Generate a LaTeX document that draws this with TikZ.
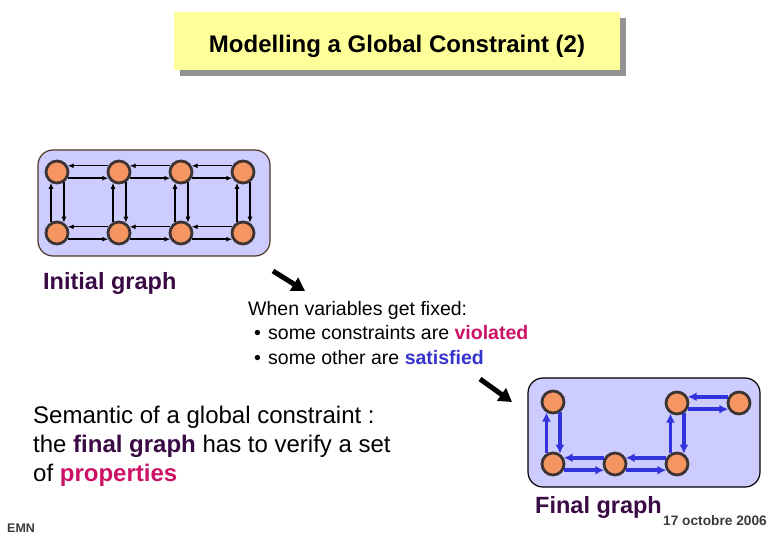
\documentclass[tikz,border=0pt]{standalone}
\usepackage{fontspec}
\setmainfont{Liberation Sans}
\usetikzlibrary{arrows.meta,shadows}
\definecolor{lav}{HTML}{CCCCFF}
\definecolor{orng}{HTML}{F59562}
\definecolor{nbord}{HTML}{3D3333}
\definecolor{bluA}{HTML}{3333DD}
\definecolor{purp}{HTML}{3A0A45}
\definecolor{mag}{HTML}{CC1166}
\definecolor{satb}{HTML}{3333CC}
\definecolor{ttl}{HTML}{FFFF99}
\definecolor{footg}{HTML}{3A3A3A}
\definecolor{gbord}{HTML}{503828}
\newcommand{\fsz}[1]{\fontsize{#1}{#1}\selectfont}
\begin{document}
\begin{tikzpicture}[x=1pt,y=-1pt,
  vnode/.style={circle,fill=orng,draw=nbord,line width=2.8pt,minimum size=22pt,inner sep=0pt},
  gbox/.style={rounded corners=15pt,fill=lav,line width=1.2pt,inner sep=0pt},
  thinarr/.style={-{Latex[length=6pt,width=5pt]},line width=1.4pt,black},
  bluearr/.style={-{Latex[length=9pt,width=9pt]},line width=3.6pt,bluA},
  bigarr/.style={-{Triangle[length=13pt,width=15pt]},line width=5pt,black},
  txt/.style={inner sep=0pt,anchor=base west}]
\useasboundingbox (0,0) rectangle (780,540);
% title
\node[fill=ttl,minimum width=446pt,minimum height=58pt,inner sep=0pt,
  drop shadow={shadow xshift=6pt,shadow yshift=-6pt,fill=gray!85,opacity=1}]
  (title) at (397,41) {};
\node[inner sep=0pt] (titletext) at (397,46) {\fsz{24}\bfseries Modelling a Global Constraint (2)};
% initial graph
\node[gbox,draw=gbord,minimum width=232pt,minimum height=106pt] (G1) at (154,203) {};
\foreach \i/\x in {1/57,2/119,3/181,4/243} {
  \node[vnode] (t\i) at (\x,172) {};
  \node[vnode] (b\i) at (\x,233) {};
}
\foreach \i/\j in {1/2,2/3,3/4} {
  \draw[thinarr] (t\j.150) -- (t\i.30);
  \draw[thinarr] (t\i.-30) -- (t\j.210);
  \draw[thinarr] (b\j.150) -- (b\i.30);
  \draw[thinarr] (b\i.-30) -- (b\j.210);
}
\foreach \i in {1,...,4} {
  \draw[thinarr] (b\i.119) -- (t\i.241);
  \draw[thinarr] (t\i.304) -- (b\i.56);
}
\node[txt,text=purp] (lblI) at (43,290) {\fsz{23.5}\bfseries Initial graph};
% arrows
\coordinate (p1) at (273,271);
\coordinate (p2) at (305,291);
\draw[bigarr] (p1) -- (p2);
\coordinate (p3) at (480,379);
\coordinate (p4) at (512,402);
\draw[bigarr] (p3) -- (p4);
% middle text
\node[txt] (w1) at (248,316) {\fsz{19.5}When variables get fixed:};
\node[txt] (bu1) at (254,340) {\fsz{19.5}\textbullet};
\node[txt] (w2) at (268,340) {\fsz{19.5}some constraints are \textcolor{mag}{\bfseries violated}};
\node[txt] (bu2) at (254,364) {\fsz{19.5}\textbullet};
\node[txt] (w3) at (268,364) {\fsz{19.5}some other are \textcolor{satb}{\bfseries satisfied}};
% semantic text
\node[txt] (s1) at (33,423) {\fsz{24}Semantic of a global constraint :};
\node[txt] (s2) at (33,452) {\fsz{24}the \textcolor{purp}{\bfseries final graph} has to verify a set};
\node[txt] (s3) at (33,481) {\fsz{24}of \textcolor{mag}{\bfseries properties}};
% final graph
\node[gbox,draw=black,minimum width=232pt,minimum height=109pt] (G2) at (644,432.5) {};
\node[vnode] (fa) at (553,402) {};
\node[vnode] (fb) at (553,464) {};
\node[vnode] (fc) at (615,464) {};
\node[vnode] (fd) at (677,464) {};
\node[vnode] (fe) at (677,403) {};
\node[vnode] (ff) at (739,403) {};
\draw[bluearr] (fb.122) -- (fa.238);
\draw[bluearr] (fa.304) -- (fb.56);
\draw[bluearr] (fc.150) -- (fb.30);
\draw[bluearr] (fb.-30) -- (fc.210);
\draw[bluearr] (fd.150) -- (fc.30);
\draw[bluearr] (fc.-30) -- (fd.210);
\draw[bluearr] (fd.122) -- (fe.238);
\draw[bluearr] (fe.304) -- (fd.56);
\draw[bluearr] (ff.150) -- (fe.30);
\draw[bluearr] (fe.-30) -- (ff.210);
\node[txt,text=purp] (lblF) at (535,513) {\fsz{23.5}\bfseries Final graph};
% footer
\node[txt,text=footg] (emn) at (7,532) {\fsz{12.5}\bfseries EMN};
\node[txt,text=footg] (date) at (663,525) {\fsz{13.7}\bfseries 17 octobre 2006};
\end{tikzpicture}
\end{document}
